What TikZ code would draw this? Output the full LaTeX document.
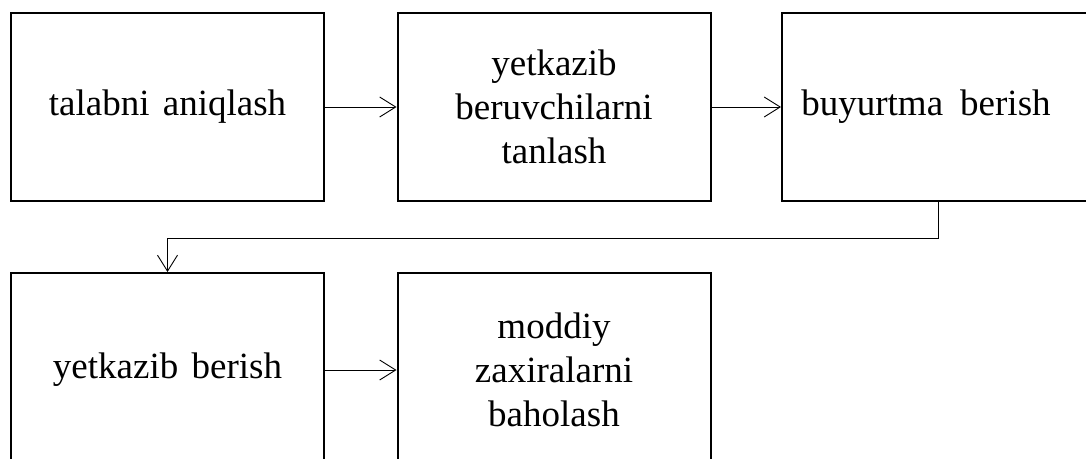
\documentclass[tikz,border=0pt]{standalone}
\usepackage{fontspec}
\setmainfont{Liberation Serif}
\usetikzlibrary{arrows.meta}
\newcommand\boxfont{\fontsize{37}{44}\selectfont\spaceskip=0.36em plus 0.1em\relax}
\begin{document}
\begin{tikzpicture}[x=1pt,y=-1pt,
  box/.style={draw, line width=2pt, minimum width=313pt, minimum height=188pt,
    align=center, font=\boxfont, inner sep=0pt},
  lowbox/.style={box, minimum height=194pt},
  conn/.style={line width=0.9pt, -{Straight Barb[length=16pt,width=20pt]}}]
\useasboundingbox (0,0) rectangle (1086,458);
\node[box] (a) at (167.5,107) {talabni aniqlash};
\node[box] (b) at (554,107) {yetkazib\\beruvchilarni\\tanlash};
\node[box] (c) at (938.5,107) {\hspace*{-25pt}buyurtma\hspace{0.1em} berish};
\node[lowbox] (d) at (167.5,370) {yetkazib berish};
\node[lowbox] (e) at (554,370) {moddiy\\zaxiralarni\\baholash};
\draw[conn] (a) -- (b);
\draw[conn] (b) -- (c);
\draw[conn] (c.south) -- ++(0,36) -| (d.north);
\draw[conn] (d) -- (e);
\end{tikzpicture}
\end{document}
